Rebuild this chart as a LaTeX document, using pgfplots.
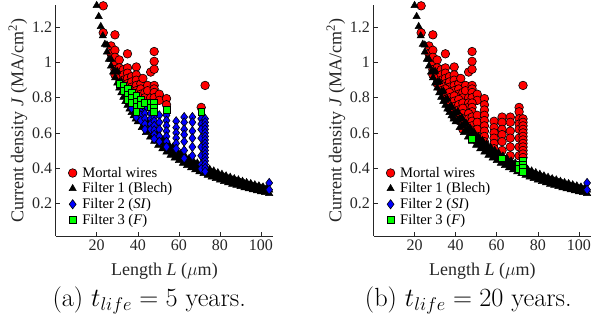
\RequirePackage{fix-cm}
\documentclass[border=0pt]{standalone}
\usepackage{fontspec}
\usepackage{pgfplots}
\pgfplotsset{compat=1.18}
\usepackage{pgfplotstable}
\newfontfamily\tnr{Liberation Serif}
\definecolor{axcol}{rgb}{0.15,0.15,0.15}
\definecolor{mred}{rgb}{1,0,0}
\definecolor{mgreen}{rgb}{0,1,0}
\definecolor{mblue}{rgb}{0,0,1}

% Filter 1 (Blech) points, same in both panels
\pgfplotstableread{
L J
20 1.325
21 1.262
22 1.205
23 1.152
24 1.104
25 1.060
26 1.019
27 0.981
28 0.946
29 0.914
30 0.883
31 0.855
32 0.828
33 0.803
34 0.779
35 0.757
36 0.736
37 0.716
38 0.697
39 0.679
40 0.663
42 0.631
44 0.602
46 0.576
48 0.552
50 0.530
52 0.510
54 0.491
56 0.473
58 0.457
60 0.442
62 0.427
64 0.414
66 0.402
68 0.390
70 0.379
72 0.368
74 0.358
76 0.349
78 0.340
80 0.331
82 0.323
84 0.316
86 0.308
88 0.301
90 0.294
92 0.288
94 0.282
96 0.276
98 0.270
100 0.265
102 0.260
104 0.255
25 1.100
27 1.019
29 0.948
31 0.887
33 0.833
35 0.786
37 0.743
39 0.705
41 0.671
43 0.640
45 0.611
47 0.585
49 0.561
51 0.539
53 0.519
55 0.500
57 0.482
59 0.466
61 0.451
63 0.437
65 0.423
67 0.410
69 0.399
71 0.387
73 0.377
75 0.367
77 0.357
79 0.348
81 0.340
83 0.331
85 0.324
87 0.316
89 0.309
91 0.302
93 0.296
95 0.290
97 0.284
99 0.278
101 0.272
103 0.267
30 0.950
32 0.891
34 0.838
36 0.792
38 0.750
40 0.713
42 0.679
44 0.648
46 0.620
48 0.594
50 0.570
52 0.548
54 0.528
56 0.509
58 0.491
60 0.475
62 0.460
64 0.445
66 0.432
68 0.419
70 0.407
72 0.396
74 0.385
76 0.375
78 0.365
80 0.356
82 0.348
84 0.339
86 0.331
88 0.324
90 0.317
92 0.310
94 0.303
96 0.297
98 0.291
100 0.285
102 0.279
104 0.274
41 0.720
43 0.686
45 0.656
47 0.628
49 0.602
51 0.578
53 0.557
55 0.536
57 0.518
59 0.500
61 0.484
63 0.468
65 0.454
67 0.440
69 0.428
71 0.416
73 0.404
75 0.393
77 0.383
79 0.373
81 0.364
83 0.355
85 0.347
87 0.339
89 0.332
91 0.324
93 0.317
95 0.311
97 0.304
99 0.298
101 0.292
103 0.286
}\tri

% red in both panels
\pgfplotstableread{
L J
23.2 1.323
23.2 1.17
27 1.095
27 1.05
28.9 1.158
28.9 1.07
28.9 1.03
28.9 0.99
28.9 0.96
28.9 0.93
31 1.015
31 0.97
31 0.94
31 0.91
33 0.96
33 0.93
33 0.90
35 1.05
35 0.97
35 0.94
35 0.91
35 0.88
37 0.92
37 0.89
37 0.86
39.3 0.975
39.3 0.93
39.3 0.90
39.3 0.87
39.3 0.84
41.5 0.88
41.5 0.85
41.5 0.82
42.5 0.91
43.5 0.83
43.5 0.80
44.8 0.87
44.8 0.84
46.3 0.946
46.3 0.80
48 1.063
48 1.007
48 0.962
48 0.87
48 0.85
48 0.83
48 0.80
50.5 0.82
50.5 0.785
54 0.795
54 0.76
70.9 0.745
72.8 0.87
}\redA

% green in (a), red in (b)
\pgfplotstableread{
L J
31 0.88
33 0.87
33 0.84
35 0.85
35 0.82
35 0.79
37 0.83
37 0.80
37 0.77
39.3 0.81
39.3 0.78
39.3 0.75
39.3 0.72
41.5 0.79
41.5 0.76
43.5 0.77
46.3 0.77
46.3 0.745
48 0.77
48 0.745
48 0.72
54 0.73
70.9 0.72
}\greenA

% blue in (a), red in (b)
\pgfplotstableread{
L J
37 0.74
39.3 0.69
41.5 0.73
41.5 0.70
41.5 0.67
43.5 0.74
43.5 0.71
43.5 0.68
43.5 0.65
43.5 0.62
46.3 0.71
46.3 0.68
46.3 0.65
46.3 0.62
48 0.69
48 0.666
48 0.64
48 0.615
48 0.59
50.5 0.70
50.5 0.66
50.5 0.62
50.5 0.58
50.5 0.55
54 0.70
54 0.67
54 0.64
54 0.61
54 0.58
54 0.55
54 0.52
58.7 0.666
58.7 0.63
58.7 0.60
58.7 0.57
58.7 0.54
58.7 0.51
62.6 0.69
62.6 0.66
62.6 0.62
62.6 0.59
62.6 0.55
62.6 0.50
66.6 0.69
66.6 0.66
66.6 0.61
66.6 0.57
66.6 0.52
66.6 0.47
70.9 0.68
70.9 0.65
70.9 0.62
70.9 0.57
70.9 0.52
70.9 0.47
72.8 0.68
72.8 0.66
72.8 0.64
72.8 0.62
72.8 0.60
72.8 0.58
72.8 0.56
72.8 0.54
72.8 0.52
72.8 0.50
72.8 0.48
72.8 0.46
}\blueA

% blue in (a), green in (b)
\pgfplotstableread{
L J
48 0.566
62.6 0.455
70.9 0.42
70.9 0.395
72.8 0.44
72.8 0.42
72.8 0.40
72.8 0.38
}\blueAgreenB

% blue in both
\pgfplotstableread{
L J
104 0.315
104 0.276
}\blueBoth

\pgfplotsset{
  panel/.style={
    scale only axis, width=217.7pt, height=230.5pt,
    xmin=0, xmax=106, ymin=0.013, ymax=1.325,
    axis x line*=bottom, axis y line*=left,
    axis line style={draw=axcol, line width=0.5pt, -},
    tick align=inside, major tick length=4pt,
    tick style={draw=axcol, line width=0.5pt},
    xtick={20,40,60,80,100}, ytick={0.2,0.4,0.6,0.8,1,1.2},
    /pgf/number format/assume math mode=true,
    ticklabel style={font=\tnr\fontsize{16}{19}\selectfont, text=axcol},
    xlabel={Length \textit{L} ($\mu$m)},
    ylabel={Current density \textit{J} (MA/cm\textsuperscript{2})},
    every axis x label/.style={at={(axis description cs:0.5,-0.172)}, anchor=base, font=\tnr\fontsize{18}{21}\selectfont, text=axcol},
    every axis y label/.style={at={(axis description cs:-0.173,0.5)}, rotate=90, anchor=center, font=\tnr\fontsize{18}{21}\selectfont, text=axcol},
    clip=false,
    legend cell align=left,
    legend style={draw=none, fill=none, at={(axis description cs:0.057,0.308)}, anchor=north west,
      font=\tnr\fontsize{14.6}{17}\selectfont, text=black, row sep=0pt, inner sep=0pt},
  },
  leg/.style={legend image code/.code={\draw[mark repeat=2,mark phase=2,##1] plot coordinates {(0cm,0cm) (0.15cm,0cm) (0.3cm,0cm)}; \path (0cm,0cm) (0.41cm,0cm);}},
  redm/.style={only marks, color=black, mark=*, mark size=4.3pt, mark options={fill=mred, line width=0.6pt}, leg},
  blkm/.style={only marks, color=black, mark=triangle*, mark size=4.2pt, mark options={fill=black, line width=0.5pt}, leg},
  bluem/.style={only marks, color=black, mark=diamond*, mark size=4.6pt, mark options={fill=mblue, line width=0.6pt}, leg},
  greenm/.style={only marks, color=black, mark=square*, mark size=3.4pt, mark options={fill=mgreen, line width=0.6pt}, leg},
}

\begin{document}
\begin{tikzpicture}
\useasboundingbox (0,0) rectangle (595pt,320pt);
% panel (a)
\begin{axis}[panel, at={(55.6pt,84pt)}, anchor=south west]
\addplot[redm] table[x=L,y=J] {\redA};
\addlegendentry{Mortal wires}
\addplot[blkm] table[x=L,y=J] {\tri};
\addlegendentry{Filter 1 (Blech)}
\addplot[bluem] table[x=L,y=J] {\blueA};
\addlegendentry{Filter 2 (\textit{SI})}
\addplot[bluem, forget plot] table[x=L,y=J] {\blueAgreenB};
\addplot[bluem, forget plot] table[x=L,y=J] {\blueBoth};
\addplot[greenm] table[x=L,y=J] {\greenA};
\addlegendentry{Filter 3 (\textit{F})}
\end{axis}
% panel (b)
\begin{axis}[panel, at={(373.5pt,84pt)}, anchor=south west]
\addplot[redm] table[x=L,y=J] {\redA};
\addlegendentry{Mortal wires}
\addplot[redm, forget plot] table[x=L,y=J] {\greenA};
\addplot[redm, forget plot] table[x=L,y=J] {\blueA};
\addplot[blkm] table[x=L,y=J] {\tri};
\addlegendentry{Filter 1 (Blech)}
\addplot[bluem] table[x=L,y=J] {\blueBoth};
\addlegendentry{Filter 2 (\textit{SI})}
\addplot[greenm] table[x=L,y=J] {\blueAgreenB};
\addlegendentry{Filter 3 (\textit{F})}
\end{axis}
\node[anchor=base] at (149.2pt,13.3pt) {\fontsize{26.3}{30}\selectfont (a) $t_{life} = 5$ years.};
\node[anchor=base] at (468.3pt,13.3pt) {\fontsize{26.3}{30}\selectfont (b) $t_{life} = 20$ years.};
\end{tikzpicture}
\end{document}
